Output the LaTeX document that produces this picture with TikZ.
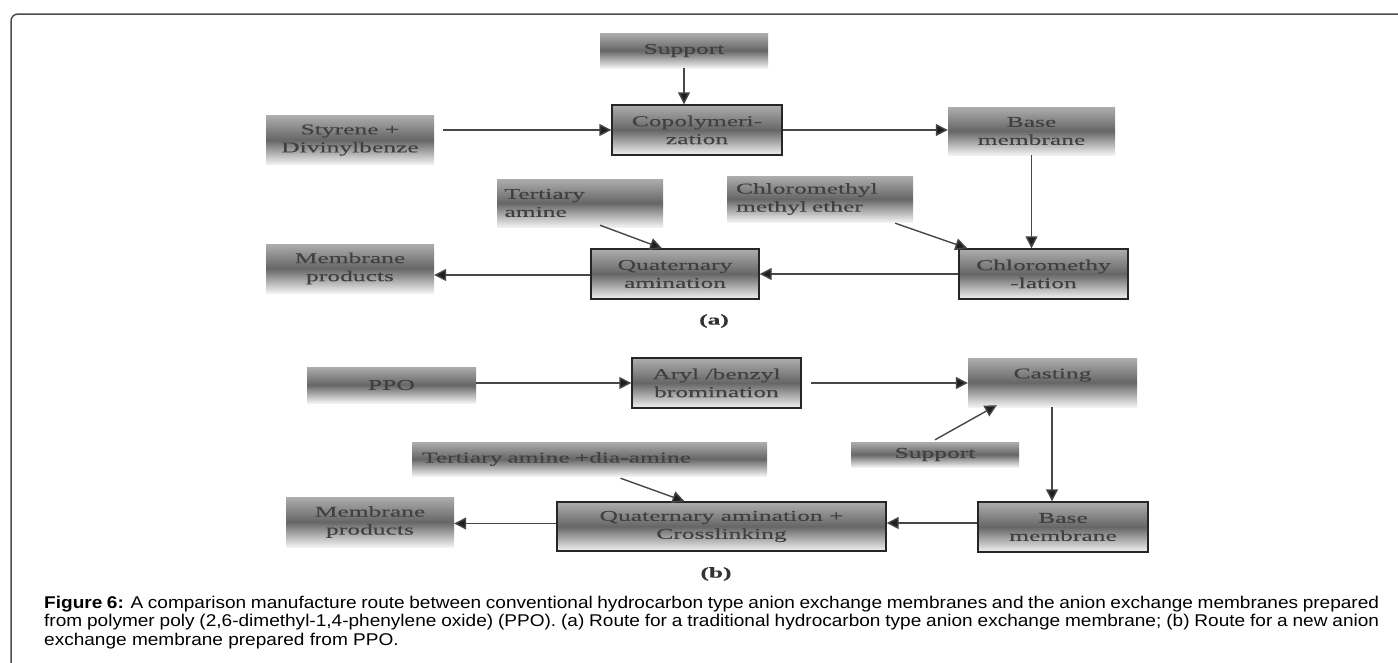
\documentclass[tikz,border=0pt]{standalone}
\usepackage{fontspec}
\usetikzlibrary{arrows.meta,calc}
\newfontfamily\boxfont[FakeStretch=1.7,FakeBold=0.3]{Liberation Serif}
\newfontfamily\capfont[FakeStretch=1.12]{Liberation Sans}
\begin{document}
\begin{tikzpicture}[x=1pt,y=-1pt,
  gbox/.style={rectangle, inner sep=0pt, top color=black!32, bottom color=black!5, middle color=black!60,
    font=\boxfont\fontsize{15}{18}\selectfont, text=black!75, align=center},
  pbox/.style={gbox, draw=black!85, line width=1.4pt},
  conn/.style={draw=black!72, line width=1.4pt, -{Triangle[length=12pt,width=12pt,fill=black!88]}},
  lab/.style={font=\boxfont\bfseries\fontsize{15}{18}\selectfont, text=black!80},
  captext/.style={anchor=west, inner sep=0pt, font=\capfont\fontsize{17}{18}\selectfont}
]
\useasboundingbox (0,0) rectangle (1398,662);
\fill[white] (0,0) rectangle (1398,662);
\draw[black!70, line width=1.5pt, rounded corners=7pt] (11,14) rectangle (1420,700);

% ---------- (a) ----------
\node[gbox, minimum width=168pt, minimum height=35pt] (supA) at (684,50.5) {Support};
\node[pbox, minimum width=170pt, minimum height=50pt] (copo) at (697,130) {Copolymeri-\\zation};
\node[gbox, minimum width=168pt, minimum height=49pt] (sty) at (350,140) {Styrene +\\Divinylbenze};
\node[gbox, minimum width=167pt, minimum height=48pt] (baseA) at (1031.5,131) {Base\\membrane};
\node[gbox, minimum width=186pt, minimum height=46pt, text width=168pt, align=left, inner xsep=9pt] (chlorE) at (820,199) {Chloromethyl\\methyl ether};
\node[gbox, minimum width=166pt, minimum height=48pt, text width=151pt, align=left, inner xsep=0pt] (tert) at (580,203) {\hspace*{0pt}Tertiary\\amine};
\node[pbox, minimum width=168pt, minimum height=50pt] (quatA) at (675,274) {Quaternary\\amination};
\node[pbox, minimum width=169pt, minimum height=50pt] (chlorM) at (1043.5,274) {Chloromethy\\-lation};
\node[gbox, minimum width=168pt, minimum height=49pt] (memA) at (350,268.5) {Membrane\\products};
\node[lab] (labA) at (714,321) {(a)};

\draw[conn] (supA.south) -- (supA.south |- copo.north);
\draw[conn, shorten <=9pt] (sty.east |- copo.west) -- (copo.west);
\draw[conn] (copo.east) -- (copo.east -| baseA.west);
\draw[conn] (baseA.south) -- (baseA.south |- chlorM.north);
\draw[conn] ($(chlorE.south east)+(-18,1)$) -- ($(chlorM.north west)+(9,0)$);
\draw[conn] (chlorM.west) -- (quatA.east);
\draw[conn] ($(tert.south)+(20,-2)$) -- ($(quatA.north)+(-13,0)$);
\draw[conn] ($(quatA.west)+(0,1)$) -- ($(quatA.west -| memA.east)+(0,1)$);

% ---------- (b) ----------
\node[gbox, minimum width=169pt, minimum height=36pt] (ppo) at (391.5,385) {PPO};
\node[pbox, minimum width=169pt, minimum height=50pt] (aryl) at (716.5,383) {Aryl /benzyl\\bromination};
\node[gbox, minimum width=169pt, minimum height=49pt] (cast) at (1052.5,382.5) {Casting\\\mbox{}};
\node[gbox, minimum width=168pt, minimum height=25pt] (supB) at (935,454.5) {Support};
\node[pbox, minimum width=170pt, minimum height=50pt] (baseB) at (1063,527) {Base\\membrane};
\node[pbox, minimum width=329pt, minimum height=49pt] (quatB) at (721.5,526.5) {Quaternary amination +\\Crosslinking};
\node[gbox, minimum width=355pt, minimum height=34pt, text width=335pt, align=left, inner xsep=0pt] (tertB) at (589.5,459) {Tertiary amine +dia-amine};
\node[gbox, minimum width=168pt, minimum height=50pt] (memB) at (370,522) {Membrane\\products};
\node[lab] (labB) at (716,574) {(b)};

\draw[conn] (ppo.east |- aryl.west) -- (aryl.west);
\draw[conn, shorten <=9pt] (aryl.east) -- (aryl.east -| cast.west);
\draw[conn] ($(supB.north)+(0,-2)$) -- ($(cast.south west)+(29,-2)$);
\draw[conn] (cast.south -| 1052,0) -- (baseB.north -| 1052,0);
\draw[conn] ($(baseB.west)+(0,-4)$) -- ($(baseB.west -| quatB.east)+(0,-4)$);
\draw[conn] ($(tertB.south)+(31,2)$) -- ($(quatB.north)+(-37,0)$);
\draw[conn] ($(quatB.west)+(0,-3)$) -- ($(quatB.west -| memB.east)+(0,-3)$);

% ---------- caption ----------
\node[captext] (cap1) at (44,604) {\makebox[1335pt][s]{\textbf{Figure 6:} A comparison manufacture route between conventional hydrocarbon type anion exchange membranes and the anion exchange membranes prepared}};
\node[captext] (cap2) at (44,622.5) {\makebox[1335pt][s]{from polymer poly (2,6-dimethyl-1,4-phenylene oxide) (PPO). (a) Route for a traditional hydrocarbon type anion exchange membrane; (b) Route for a new anion}};
\node[captext] (cap3) at (44,641) {exchange membrane prepared from PPO.};
\end{tikzpicture}
\end{document}
